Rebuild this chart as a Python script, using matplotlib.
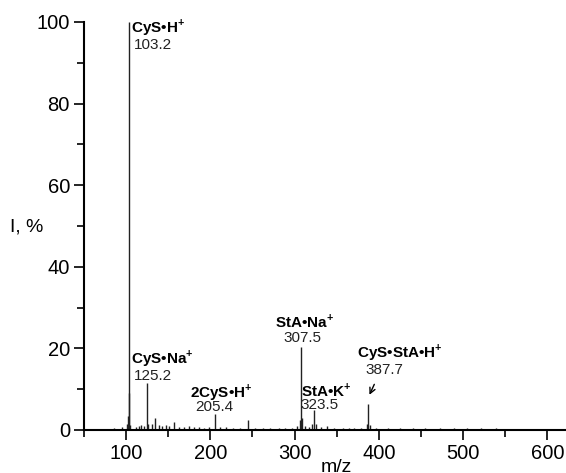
import matplotlib
matplotlib.use("Agg")
import matplotlib.pyplot as plt
from matplotlib.ticker import MultipleLocator

plt.rcParams['font.family'] = ['Liberation Sans', 'DejaVu Sans']
plt.rcParams['mathtext.fontset'] = 'custom'
plt.rcParams['mathtext.rm'] = 'Liberation Sans'
plt.rcParams['mathtext.bf'] = 'Liberation Sans:bold'

# peak list (m/z, relative intensity %)
mz = [86, 95, 101.2, 102.2, 103.2, 104.2, 105.2, 112, 115, 118, 121, 125.2, 126.2,
      131, 135, 139, 143, 147, 151, 157, 163, 169, 175, 181, 187, 193, 199,
      205.4, 211, 219, 227, 235, 245, 253, 263, 271, 281, 289, 297, 303,
      306.5, 307.5, 308.5, 313, 317, 321, 323.5, 325, 331, 339, 347, 357,
      365, 371, 379, 386.5, 387.7, 389, 397, 411, 425, 441, 455, 473,
      489, 505, 521, 539, 553, 571, 589, 607]
intensity = [0.6, 0.8, 1.5, 3.5, 100, 9.0, 1.2, 0.8, 1.0, 1.2, 0.9, 11.5, 1.5,
             1.4, 3.0, 1.2, 1.0, 1.3, 0.9, 2.0, 0.8, 0.7, 0.9, 0.7, 0.8, 0.6, 0.7,
             3.9, 0.8, 0.7, 0.6, 0.6, 2.5, 0.6, 0.5, 0.6, 0.5, 0.6, 0.5, 1.0,
             2.5, 20.3, 3.0, 1.0, 0.8, 1.5, 4.9, 1.5, 0.8, 0.9, 0.6, 0.5,
             0.6, 0.5, 0.6, 1.5, 6.4, 1.2, 0.5, 0.4, 0.4, 0.5, 0.4, 0.4,
             0.4, 0.4, 0.4, 0.4, 0.3, 0.3, 0.3, 0.3]

labels = [r'CyS•H$^{\mathbf{+}}$', r'CyS•Na$^{\mathbf{+}}$', r'2CyS•H$^{\mathbf{+}}$',
          r'StA•Na$^{\mathbf{+}}$', r'StA•K$^{\mathbf{+}}$', r'CyS•StA•H$^{\mathbf{+}}$']
values = ['103.2', '125.2', '205.4', '307.5', '323.5', '387.7']
label_pos = [(106.5, 98.6), (105.5, 17.6), (175.5, 9.3), (276.5, 26.7), (307.5, 9.8), (374.5, 18.9)]
value_pos = [(109, 94.4), (109, 13.2), (182.5, 5.6), (286.5, 22.5), (307.5, 6.1), (384, 14.7)]

fig = plt.figure(figsize=(5.66, 4.73), dpi=100)
ax = fig.add_axes([0.148, 0.091, 0.852, 0.8625])

ax.vlines(mz, 0, intensity, color='#222222', linewidth=1.0)

ax.set_xlim(50, 622)
ax.set_ylim(0, 100)
ax.xaxis.set_major_locator(MultipleLocator(100))
ax.xaxis.set_minor_locator(MultipleLocator(50))
ax.yaxis.set_major_locator(MultipleLocator(20))
ax.yaxis.set_minor_locator(MultipleLocator(10))
ax.tick_params(which='major', direction='out', length=7, width=1.2, labelsize=14.5, pad=3)
ax.tick_params(which='minor', direction='out', length=5, width=1.2)
for s in ['top', 'right']:
    ax.spines[s].set_visible(False)
for s in ['left', 'bottom']:
    ax.spines[s].set_linewidth(1.5)

for lab, (x, y) in zip(labels, label_pos):
    ax.text(x, y, lab, fontsize=11, fontweight='bold', ha='left', va='center')
for val, (x, y) in zip(values, value_pos):
    ax.text(x, y, val, fontsize=11, ha='left', va='center', color='#222222')

ax.annotate('', xy=(387.5, 8.0), xytext=(396, 11.8),
            arrowprops=dict(arrowstyle='->', color='black', lw=1.0))

fig.text(0.018, 0.52, 'I, %', fontsize=14, ha='left', va='center')
fig.text(0.594, 0.012, 'm/z', fontsize=14, ha='center', va='center')

fig.savefig('out.png', dpi=100)
